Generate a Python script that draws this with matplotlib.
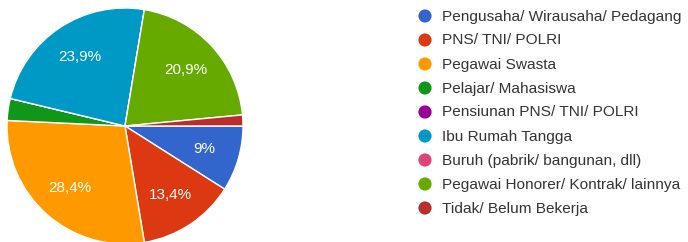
import matplotlib
matplotlib.use("Agg")
import matplotlib.pyplot as plt

categories = [
    "Pengusaha/ Wirausaha/ Pedagang",
    "PNS/ TNI/ POLRI",
    "Pegawai Swasta",
    "Pelajar/ Mahasiswa",
    "Pensiunan PNS/ TNI/ POLRI",
    "Ibu Rumah Tangga",
    "Buruh (pabrik/ bangunan, dll)",
    "Pegawai Honorer/ Kontrak/ lainnya",
    "Tidak/ Belum Bekerja",
]
values = [9.0, 13.4, 28.4, 3.0, 0.0, 23.9, 0.0, 20.9, 1.5]
colors = ["#3366cc", "#dc3912", "#ff9900", "#109618", "#990099",
          "#0099c6", "#dd4477", "#66aa00", "#b82e2e"]

plt.rcParams['font.family'] = ['Liberation Sans', 'DejaVu Sans']

W, H = 688, 242
fig = plt.figure(figsize=(W / 100, H / 100), dpi=100)
fig.patch.set_facecolor("white")

cx, cy, r = 125, 126, 118
ax = fig.add_axes([(cx - r) / W, (H - cy - r) / H, 2 * r / W, 2 * r / H])


def fmt(p):
    if p < 5:
        return ""
    s = f"{p:.1f}".replace(".", ",")
    if s.endswith(",0"):
        s = s[:-2]
    return s + "%"


wedges, texts, autotexts = ax.pie(
    values, colors=colors, startangle=0, counterclock=False,
    autopct=fmt, pctdistance=0.7, radius=1,
    wedgeprops=dict(edgecolor="white", linewidth=1),
    textprops=dict(color="white", fontsize=11),
)
ax.set_xlim(-1, 1)
ax.set_ylim(-1, 1)
ax.set_aspect("equal")
ax.axis("off")

leg = fig.add_axes([0, 0, 1, 1])
leg.set_xlim(0, W)
leg.set_ylim(H, 0)
leg.axis("off")
y0, dy = 16, 24
for i, (lab, col) in enumerate(zip(categories, colors)):
    y = y0 + i * dy
    leg.scatter([425], [y], s=90, color=col, edgecolors="none")
    leg.text(442, y + 0.5, lab, fontsize=11.1, color="#333333", va="center", ha="left")

fig.savefig("out.png", dpi=100, facecolor="white")
